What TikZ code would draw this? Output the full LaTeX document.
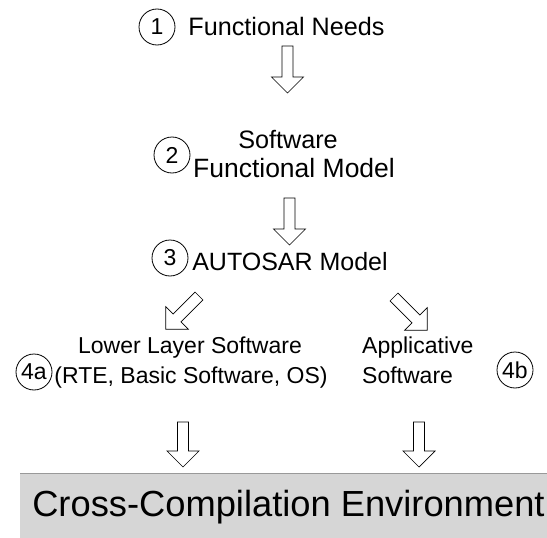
\documentclass[tikz,border=0pt]{standalone}
\usepackage{fontspec}
\setmainfont{Liberation Sans}
\begin{document}
\begin{tikzpicture}[x=1pt,y=-1pt,
  circ/.style={draw, circle, line width=0.8pt, minimum size=36pt, inner sep=0pt, font=\fontsize{23}{23}\selectfont},
  lbl/.style={inner sep=0pt, anchor=base, font=\fontsize{25.2}{28}\selectfont},
  sublbl/.style={inner sep=0pt, anchor=base, font=\fontsize{23}{28}\selectfont},
  arrowline/.style={draw=black, fill=white, line width=0.7pt, line join=miter},
  pics/harrow/.style={code={
    \draw[arrowline] (0,-5.5) -- ({#1-16},-5.5) -- ({#1-16},-16) -- (#1,0) -- ({#1-16},16) -- ({#1-16},5.5) -- (0,5.5) -- cycle;}}
]
\useasboundingbox (0,0) rectangle (547,538);
% bottom box
\fill[fill=black!16] (20,473) rectangle (547,538);
\draw[black!40, line width=0.8pt] (20,473) -- (547,473);
\node[inner sep=0pt, anchor=base, font=\fontsize{36.3}{36}\selectfont] (env) at (288.5,516) {Cross-Compilation Environment};

% level 1
\node[circ] (c1) at (157,27) {1};
\node[lbl] (t1) at (286.5,35) {Functional Needs};
\pic[rotate=-90] at (287.5,46) {harrow=47};

% level 2
\node[circ] (c2) at (172,155) {2};
\node[lbl] (t2a) at (288,148) {Software};
\node[lbl, font=\fontsize{26.5}{28}\selectfont] (t2b) at (294,177) {Functional Model};
\pic[rotate=-90] at (289.5,198) {harrow=47};

% level 3
\node[circ] (c3) at (170,258) {3};
\node[lbl, font=\fontsize{25}{28}\selectfont] (t3) at (290,270) {AUTOSAR Model};
\pic[rotate=-135] at (199,296) {harrow=47};
\pic[rotate=-45] at (394,297) {harrow=47};

% level 4
\node[sublbl] (t4a1) at (190,353) {Lower Layer Software};
\node[sublbl] (t4a2) at (191,383) {(RTE, Basic Software, OS)};
\node[circ] (c4a) at (34,372) {4a};
\node[sublbl, anchor=base west] (t4b1) at (362,353) {Applicative};
\node[sublbl, anchor=base west] (t4b2) at (362,383) {Software};
\node[circ] (c4b) at (515,370) {4b};

% bottom arrows
\pic[rotate=-90] at (183,422) {harrow=45};
\pic[rotate=-90] at (419,422) {harrow=45};
\end{tikzpicture}
\end{document}
